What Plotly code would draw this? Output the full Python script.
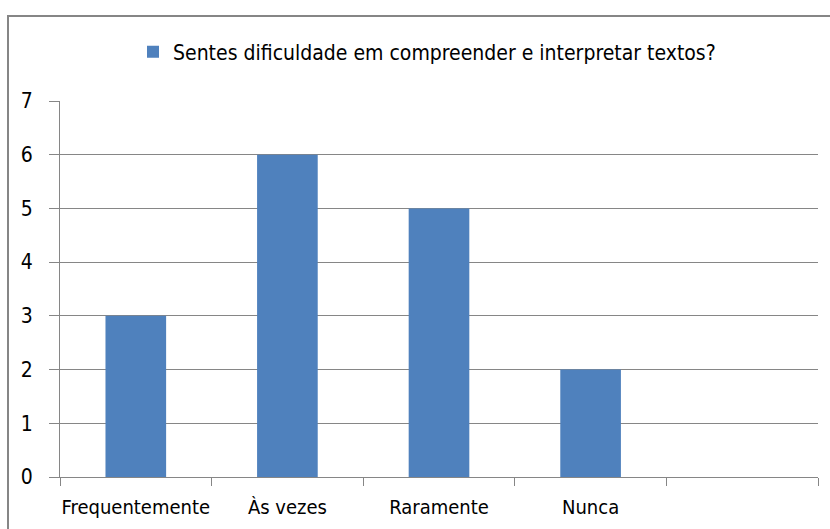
import plotly.graph_objects as go

categories = ["Frequentemente", "Às vezes", "Raramente", "Nunca", " "]
values = [3, 6, 5, 2, None]
series_name = "Sentes dificuldade em compreender e interpretar textos?"
y_ticks = [0, 1, 2, 3, 4, 5, 6, 7]

FONT = "DejaVu Sans Condensed, sans-serif"
GRID = "#868686"

W, H = 830, 529
ml, mr, mt, mb = 60, 12, 101, 52
pw, ph = W - ml - mr, H - mt - mb

def px_x(p):
    return (p - ml) / pw

def px_y(p):
    return 1 - (p - mt) / ph

fig = go.Figure()
fig.add_trace(go.Bar(
    x=categories, y=values, name=series_name,
    marker=dict(color="#4F81BD", line=dict(width=0)),
    width=0.4, showlegend=True,
))

fig.update_layout(
    width=W, height=H,
    margin=dict(l=ml, r=mr, t=mt, b=mb),
    paper_bgcolor="white", plot_bgcolor="white",
    font=dict(family=FONT, size=21, color="#000000"),
    showlegend=True,
    legend=dict(orientation="h", x=px_x(427), xanchor="center",
                y=px_y(52), yanchor="middle",
                font=dict(family=FONT, size=21, color="#000000"),
                itemwidth=30, bgcolor="rgba(0,0,0,0)"),
    xaxis=dict(type="category", categoryorder="array", categoryarray=categories,
               range=[-0.5, 4.5], tickson="boundaries", ticks="outside",
               ticklen=8, tickcolor=GRID, showgrid=False, automargin=False,
               tickangle=0, ticklabelstandoff=12,
               showline=True, linecolor=GRID, linewidth=1,
               tickfont=dict(family=FONT, size=20), fixedrange=True),
    yaxis=dict(range=[0, 7], tickvals=y_ticks, ticks="outside", ticklen=10,
               tickcolor=GRID, showgrid=True, gridcolor=GRID, gridwidth=1,
               showline=True, linecolor=GRID, linewidth=1, zeroline=False,
               automargin=False,
               tickfont=dict(family=FONT, size=21), ticklabelstandoff=12),
    shapes=[dict(type="rect", xref="paper", yref="paper",
                 x0=px_x(8), x1=px_x(840), y0=px_y(545), y1=px_y(16),
                 line=dict(color="#868686", width=2), layer="below")],
)

fig.write_html("out.html", config={"displayModeBar": False},
               post_script="document.body.style.margin='0px';")
